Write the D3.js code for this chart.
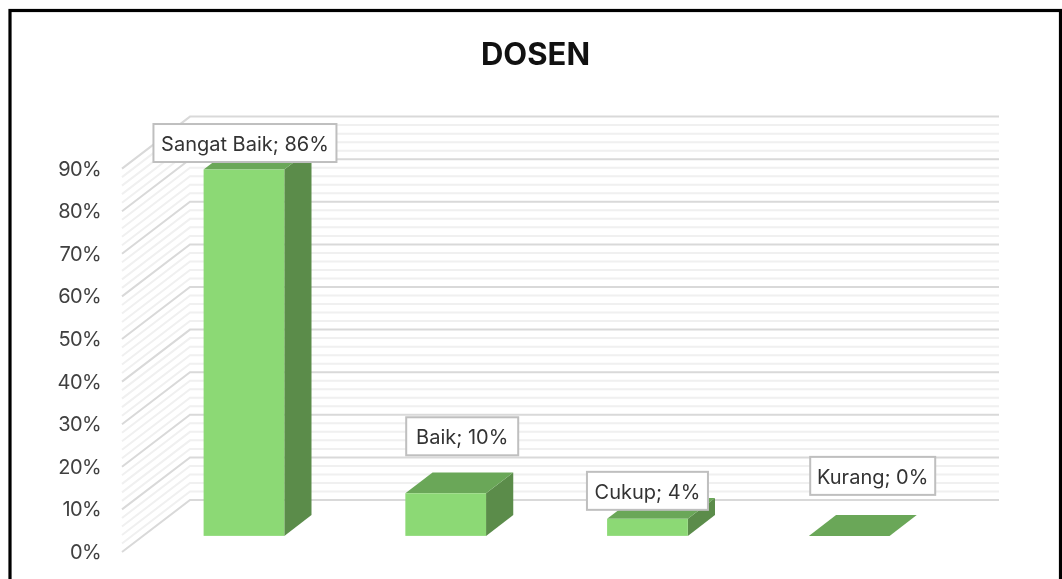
<!DOCTYPE html>
<html>
<head>
  <title>DOSEN</title>
  <script src="https://d3js.org/d3.v7.min.js"></script>
  <style>
    html, body { margin: 0; padding: 0; background: #fff; overflow: hidden; }
    svg { display: block; filter: blur(0.4px); }
    text { font-family: Inter, "Noto Sans", sans-serif; }
  </style>
</head>
<body>
  <div id="chart"></div>
  <script>
    var categories = ["Sangat Baik", "Baik", "Cukup", "Kurang"];
    var values = [0.86, 0.10, 0.04, 0];
    var axisTicks = [0, 0.1, 0.2, 0.3, 0.4, 0.5, 0.6, 0.7, 0.8, 0.9];
    var minorTicks = d3.range(0, 46).map(d => d * 0.02);

    var width = 1062, height = 579;

    var svg = d3.select("#chart")
      .append("svg")
      .attr("width", width)
      .attr("height", height);

    // frame, runs off the bottom of the window
    svg.append("rect")
      .attr("x", 10)
      .attr("y", 10.5)
      .attr("width", 1050.5)
      .attr("height", 600)
      .attr("fill", "#fff")
      .attr("stroke", "#000")
      .attr("stroke-width", 3.2);

    svg.append("text")
      .attr("x", 535.5)
      .attr("y", 65)
      .attr("text-anchor", "middle")
      .attr("font-size", 31)
      .attr("font-weight", 700)
      .attr("fill", "#111")
      .text("DOSEN");

    // oblique projection: depth 0 is the front of the floor, depth 1 the back wall
    var left = 122;
    var wallWidth = 809;
    var depthX = d3.scaleLinear().domain([0, 1]).range([0, 68]);
    var depthY = d3.scaleLinear().domain([0, 1]).range([0, -52]);

    var x = d3.scaleBand()
      .domain(categories)
      .range([0, 807])
      .paddingInner(0.6)
      .paddingOuter(0.3);

    var y = d3.scaleLinear()
      .domain([0, 0.9])
      .range([552, 168.6]);

    function px(xv, depth) { return left + xv + depthX(depth); }
    function py(v, depth) { return y(v) + depthY(depth); }

    function gridColor(d) {
      return Math.round(d * 100) % 10 === 0 ? "#d9d9d9" : "#f0f0f0";
    }

    var grid = svg.append("g").attr("fill", "none").attr("stroke-width", 2);

    // side wall and back wall lines
    grid.selectAll("path")
      .data(minorTicks)
      .enter().append("path")
      .attr("stroke", gridColor)
      .attr("d", d => d3.line()([
        [px(0, 0), py(d, 0)],
        [px(0, 1), py(d, 1)],
        [px(wallWidth, 1), py(d, 1)]
      ]));

    var axis = svg.append("g")
      .attr("transform", "translate(108,0)")
      .call(d3.axisLeft(y).tickValues(axisTicks).tickSize(0).tickPadding(7).tickFormat(d3.format(".0%")));
    axis.select(".domain").remove();
    axis.selectAll("text")
      .attr("font-family", "Inter")
      .attr("font-size", 20)
      .attr("letter-spacing", -0.6)
      .attr("fill", "#404040");

    var depthFront = 0.31, depthBack = 0.71;

    var bars = svg.selectAll("g.bar")
      .data(categories.map((c, i) => ({name: c, value: values[i]})))
      .enter().append("g")
      .attr("class", "bar");

    function poly(points) { return d3.line()(points) + "Z"; }

    // right side
    bars.filter(d => d.value > 0).append("path")
      .attr("fill", "#5b8c4a")
      .attr("d", function(d) {
        var x1 = x(d.name) + x.bandwidth();
        return poly([
          [px(x1, depthFront), py(0, depthFront)],
          [px(x1, depthBack), py(0, depthBack)],
          [px(x1, depthBack), py(d.value, depthBack)],
          [px(x1, depthFront), py(d.value, depthFront)]
        ]);
      });

    // top
    bars.append("path")
      .attr("fill", "#6aa758")
      .attr("d", function(d) {
        var x0 = x(d.name), x1 = x0 + x.bandwidth();
        return poly([
          [px(x0, depthFront), py(d.value, depthFront)],
          [px(x1, depthFront), py(d.value, depthFront)],
          [px(x1, depthBack), py(d.value, depthBack)],
          [px(x0, depthBack), py(d.value, depthBack)]
        ]);
      });

    // front
    bars.filter(d => d.value > 0).append("rect")
      .attr("fill", "#8cd975")
      .attr("x", d => px(x(d.name), depthFront))
      .attr("y", d => py(d.value, depthFront))
      .attr("width", x.bandwidth())
      .attr("height", d => y(0) - y(d.value));

    // data labels were moved by hand in the original, offsets from the top of each bar
    var labelDx = [1, 16.5, 0, 23.5];
    var labelDy = [-26.5, -57, -28, -60];
    var labelW = [183, 112, 121, 125];
    var labelH = 38;

    var labels = svg.selectAll("g.label")
      .data(categories)
      .enter().append("g")
      .attr("class", "label")
      .attr("transform", (d, i) => "translate(" +
        (px(x(d) + x.bandwidth() / 2, depthFront) + labelDx[i]) + "," +
        (py(values[i], depthFront) + labelDy[i]) + ")");

    labels.append("rect")
      .attr("x", (d, i) => -labelW[i] / 2)
      .attr("y", -labelH / 2)
      .attr("width", (d, i) => labelW[i])
      .attr("height", labelH)
      .attr("fill", "#fff")
      .attr("stroke", "#bfbfbf")
      .attr("stroke-width", 2);

    labels.append("text")
      .attr("text-anchor", "middle")
      .attr("y", 1)
      .attr("dy", "0.35em")
      .attr("font-size", 20)
      .attr("fill", "#333")
      .text((d, i) => d + "; " + d3.format(".0%")(values[i]));
  </script>
</body>
</html>
